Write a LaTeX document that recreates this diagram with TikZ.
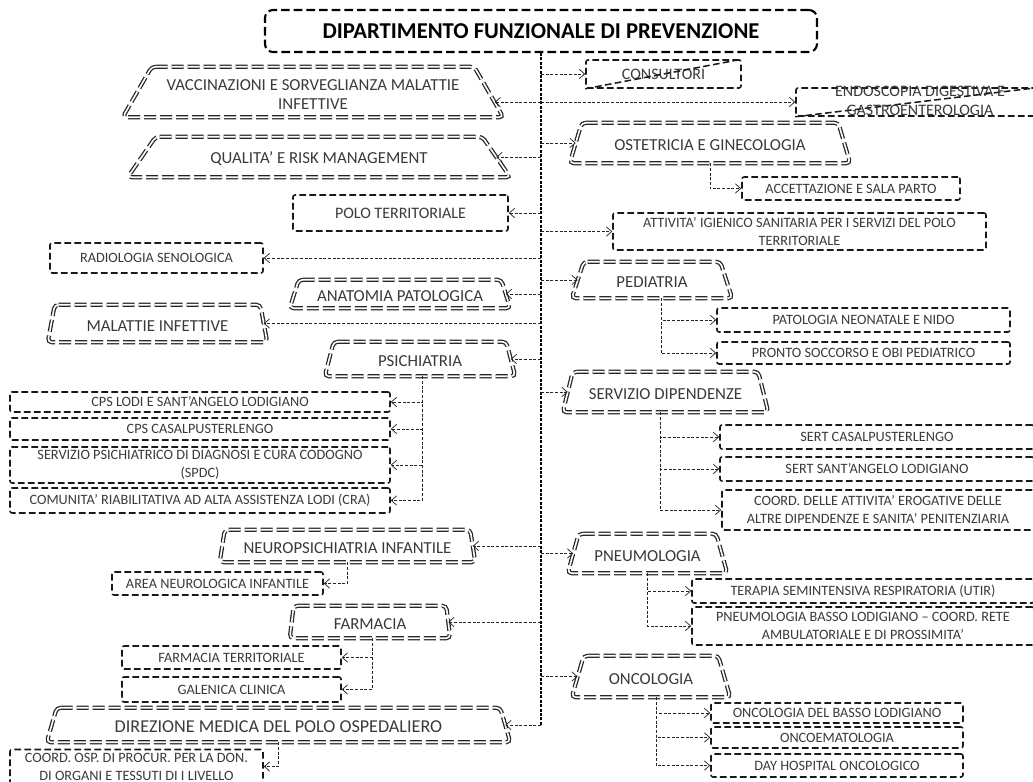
\documentclass[tikz,border=0pt]{standalone}
\usepackage{fontspec}
\setmainfont{Carlito}
\usetikzlibrary{arrows.meta,calc}
\definecolor{txtgray}{HTML}{3A3A3A}

\tikzset{
  bw/.style={minimum width=#1*0.75pt},
  bh/.style={minimum height=#1*0.75pt},
  boxline/.style={draw=black!90, line width=1.15pt, dash pattern=on 5pt off 2.5pt},
  box/.style={boxline, rounded corners=1.5pt, inner sep=1pt, align=center,
    text=txtgray, font=\fontsize{10.7}{13.5}\selectfont},
  bigfont/.style={font=\fontsize{12}{14.3}\selectfont},
  plaintext/.style={inner sep=0pt, align=center, text=txtgray, font=\fontsize{12}{14.3}\selectfont},
  trapframe/.style={inner sep=0pt},
  traptext/.style={inner sep=0pt, align=center, text=txtgray, font=\fontsize{12.6}{14.3}\selectfont},
  trapline/.style={draw=black!85, double=white, double distance=1.2pt, line width=0.95pt,
    dash pattern=on 9pt off 3pt, rounded corners=3pt},
  conn/.style={draw=black!85, line width=0.55pt, dash pattern=on 2.2pt off 1.3pt,
    -{Straight Barb[length=4pt,width=7pt]}},
  spine/.style={draw=black, line width=1.1pt, dash pattern=on 2.2pt off 1.1pt},
  titlebox/.style={draw, line width=1.6pt, dash pattern=on 6.5pt off 3pt, rounded corners=6pt,
    inner sep=1pt, font=\fontsize{17}{20}\selectfont\bfseries, text=black},
}

% trapezoid unit: name, centre x, centre y, width, height, top inset, text
\newcommand\trapbox[7]{%
  \node[trapframe, bw=#4, bh=#5] (#1) at (#2,#3) {};
  \node[traptext] (#1-t) at ([yshift=-1.6pt]#1.center) {#7};
  \draw[trapline] ([xshift=#6*0.75pt]#1.north west) -- ([xshift=-#6*0.75pt]#1.north east)
    -- (#1.south east) -- (#1.south west) -- cycle;
  \coordinate (#1-r) at ([xshift=-#6*0.375pt]#1.east);
  \coordinate (#1-l) at ([xshift=#6*0.375pt]#1.west);
}

\begin{document}
\begin{tikzpicture}[x=0.75pt,y=-0.75pt]
\useasboundingbox (0,0) rectangle (1033,782);
\clip (0,0) rectangle (1033,782);

% ---- head of the department
\node[titlebox, bw=552, bh=42] (title) at (541,31) {DIPARTIMENTO FUNZIONALE DI PREVENZIONE};

% ---- left column
\trapbox{vacc}{313}{92}{380}{50}{29}{VACCINAZIONI E SORVEGLIANZA MALATTIE\\INFETTIVE}
\coordinate (vacc-a) at ($(vacc.south east)!0.3!([xshift=-21.75pt]vacc.north east)$);
\trapbox{qual}{319}{157}{382}{40}{28}{QUALITA’ E RISK MANAGEMENT}
\node[box, bigfont, bw=215, bh=36] (polo) at (400.5,213) {POLO TERRITORIALE};
\node[box, bw=213, bh=30] (radio) at (156.5,258) {RADIOLOGIA SENOLOGICA};
\trapbox{anat}{400}{294}{220}{28}{9}{ANATOMIA PATOLOGICA}
\trapbox{malat}{157.5}{323.5}{219}{37}{7}{MALATTIE INFETTIVE}
\trapbox{psich}{420}{359}{190}{34}{9}{PSICHIATRIA}
\node[box, bw=380, bh=20] (cps1) at (200,402) {CPS LODI E SANT’ANGELO LODIGIANO};
\node[box, bw=380, bh=22] (cps2) at (200,429) {CPS CASALPUSTERLENGO};
\node[box, bw=380, bh=36] (spdc) at (200,465) {SERVIZIO PSICHIATRICO DI DIAGNOSI E CURA CODOGNO\\(SPDC)};
\node[box, bw=380, bh=25] (cra) at (200,500.5) {COMUNITA’ RIABILITATIVA AD ALTA ASSISTENZA LODI (CRA)};
\trapbox{neuro}{347.5}{546}{255}{32}{5}{NEUROPSICHIATRIA INFANTILE}
\node[box, bw=211, bh=23] (area) at (217.5,583.5) {AREA NEUROLOGICA INFANTILE};
\trapbox{farm}{370}{622}{160}{32}{4}{FARMACIA}
\node[box, bw=219, bh=23] (farmt) at (231.5,657.5) {FARMACIA TERRITORIALE};
\node[box, bw=219, bh=25] (galen) at (231.5,689.5) {GALENICA CLINICA};
\trapbox{dir}{278.5}{725}{463}{34}{10}{{\fontsize{13.6}{16}\selectfont DIREZIONE MEDICA DEL POLO OSPEDALIERO}}
\node[box, bw=253, bh=34] (cosp) at (136.5,766.5) {COORD. OSP. DI PROCUR. PER LA DON.\\DI ORGANI E TESSUTI DI I LIVELLO};

% ---- right column
\node[box, bigfont, bw=155, bh=28] (consult) at (663.5,74) {CONSULTORI};
\draw[boxline] (consult.south west) -- (consult.north east);
\node[box, bw=244, bh=28] (endo) at (918,102) {};
\draw[boxline] (endo.south west) -- (endo.north east);
\node[plaintext] (endotxt) at (920,100.5) {ENDOSCOPIA DIGESTIVA E\\GASTROENTEROLOGIA};
\trapbox{ostet}{710}{143}{280}{40}{12}{OSTETRICIA E GINECOLOGIA}
\node[box, bw=218, bh=23] (acc) at (851,188.5) {ACCETTAZIONE E SALA PARTO};
\node[box, bw=373, bh=37] (attiv) at (799.5,231.5) {ATTIVITA’ IGIENICO SANITARIA PER I SERVIZI DEL POLO\\TERRITORIALE};
\trapbox{ped}{652}{280}{160}{36}{12}{PEDIATRIA}
\node[box, bw=293, bh=24] (pato) at (863.5,320) {PATOLOGIA NEONATALE E NIDO};
\node[box, bw=293, bh=22] (pronto) at (863.5,353) {PRONTO SOCCORSO E OBI PEDIATRICO};
\trapbox{servd}{665.5}{392}{205}{40}{10}{SERVIZIO DIPENDENZE}
\node[box, bw=314, bh=24] (sert1) at (877,437) {SERT CASALPUSTERLENGO};
\node[box, bw=314, bh=24] (sert2) at (877,469) {SERT SANT’ANGELO LODIGIANO};
\node[box, bw=312, bh=40] (coordd) at (878,510) {COORD. DELLE ATTIVITA’ EROGATIVE DELLE\\ALTRE DIPENDENZE E SANITA’ PENITENZIARIA};
\trapbox{pneu}{647.5}{553.5}{159}{39}{11}{PNEUMOLOGIA}
\node[box, bw=342, bh=24] (terap) at (863,591) {TERAPIA SEMINTENSIVA RESPIRATORIA (UTIR)};
\node[box, bw=342, bh=38] (pneu2) at (863,626) {PNEUMOLOGIA BASSO LODIGIANO – COORD. RETE\\AMBULATORIALE E DI PROSSIMITA’};
\trapbox{onco}{651}{676.5}{158}{41}{12}{ONCOLOGIA}
\node[box, bw=252, bh=20] (onco1) at (837,713) {ONCOLOGIA DEL BASSO LODIGIANO};
\node[box, bw=252, bh=21] (oncoem) at (837,737.5) {ONCOEMATOLOGIA};
\node[box, bw=252, bh=23] (dayh) at (837,765.5) {DAY HOSPITAL ONCOLOGICO};

% ---- main spine
\draw[spine] (title.south) -- (title.south |- dir-r);

% ---- spine to the left column
\draw[conn] (title.south |- vacc-a) -- (vacc-a);
\draw[conn] (title.south |- qual-r) -- (qual-r);
\draw[conn] (title.south |- polo.east) -- (polo.east);
\draw[conn] (title.south |- radio.east) -- (radio.east);
\draw[conn] (title.south |- anat-r) -- (anat-r);
\draw[conn] (title.south |- malat-r) -- (malat-r);
\draw[conn] (title.south |- psich-r) -- (psich-r);
\draw[conn] (title.south |- neuro-r) -- (neuro-r);
\draw[conn] (title.south |- farm-r) -- (farm-r);
\draw[conn] (title.south |- dir-r) -- (dir-r);

% ---- spine to the right column
\draw[conn] (title.south |- consult.west) -- (consult.west);
\draw[conn] (title.south |- endo.west) -- (endo.west);
\draw[conn] (title.south |- ostet-l) -- (ostet-l);
\draw[conn] (title.south |- attiv.west) -- (attiv.west);
\draw[conn] (title.south |- ped-l) -- (ped-l);
\draw[conn] (title.south |- servd-l) -- (servd-l);
\draw[conn] (title.south |- pneu-l) -- (pneu-l);
\draw[conn] (title.south |- onco-l) -- (onco-l);

% ---- units to their sections
\coordinate (psich-b) at ([xshift=1.5pt]psich.south);
\foreach \c in {cps1,cps2,spdc,cra} \draw[conn] (psich-b) |- (\c.east);
\draw[conn] (neuro.south) |- (area.east);
\coordinate (farm-b) at ([xshift=1.5pt]farm.south);
\foreach \c in {farmt,galen} \draw[conn] (farm-b) |- (\c.east);
\draw[conn] (dir.south) |- (cosp.east);

\draw[conn] (ostet.south) |- (acc.west);
\coordinate (ped-b) at ([xshift=6.75pt]ped.south);
\foreach \c in {pato,pronto} \draw[conn] (ped-b) |- (\c.west);
\coordinate (servd-b) at ([xshift=-4pt]servd.south);
\foreach \c in {sert1,sert2,coordd} \draw[conn] (servd-b) |- (\c.west);
\foreach \c in {terap,pneu2} \draw[conn] (pneu.south) |- (\c.west);
\coordinate (onco-b) at ([xshift=3.75pt]onco.south);
\foreach \c in {onco1,oncoem,dayh} \draw[conn] (onco-b) |- (\c.west);
\end{tikzpicture}
\end{document}
